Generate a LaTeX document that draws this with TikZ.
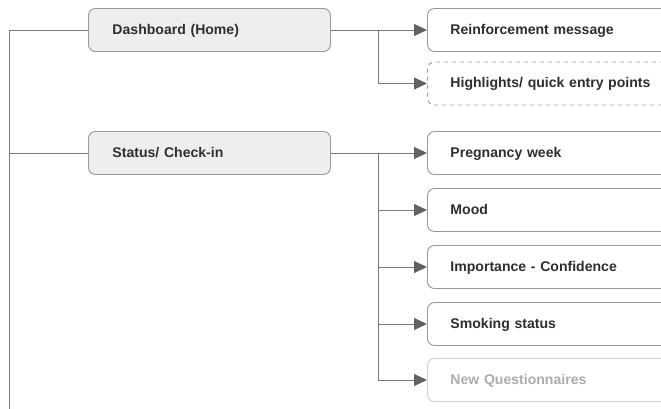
\documentclass[tikz,border=0pt]{standalone}
\usepackage{fontspec}
\setmainfont{Liberation Sans}
\usetikzlibrary{arrows.meta}
\definecolor{linegray}{HTML}{7A7A7A}
\definecolor{boxgray}{HTML}{9A9A9A}
\definecolor{txtgray}{HTML}{2E2E2E}
\begin{document}
\begin{tikzpicture}[x=0.3mm,y=-0.3mm,
  every node/.style={font=\bfseries\fontsize{12}{14}\selectfont,text=txtgray,text height=0.72em,text depth=0pt},
  main/.style={draw=boxgray,fill=gray!13,rounded corners=2.1mm,anchor=west,minimum height=12.9mm,
    text width=72.6mm-14.4mm,inner xsep=7.2mm,align=left,line width=0.8pt},
  leaf/.style={draw=boxgray,fill=white,rounded corners=2.1mm,anchor=west,minimum height=12.9mm,
    text width=85mm-13.8mm,inner xsep=6.9mm,align=left,line width=0.8pt},
  link/.style={draw=linegray,line width=0.8pt},
  arr/.style={link,-{Triangle[length=3.9mm,width=3.6mm,color=linegray!80!black]}}]
\useasboundingbox (0,0) rectangle (661,409);
\node[main] (dash) at (88,30) {Dashboard (Home)};
\node[main] (stat) at (88,153) {Status/ Check-in};
\node[leaf] (reinf) at (427,30) {Reinforcement message};
\node[leaf,dashed,dash pattern=on 1.2mm off 1.2mm] (high) at (427,83.5) {Highlights/ quick entry points};
\node[leaf] (preg) at (427,153) {Pregnancy week};
\node[leaf] (mood) at (427,210) {Mood};
\node[leaf] (imp) at (427,267) {Importance - Confidence};
\node[leaf] (smok) at (427,324) {Smoking status};
\node[leaf,draw=gray!35,text=gray!65] (newq) at (427,380) {New Questionnaires};
\coordinate (trunk) at (9,420);
\coordinate (j1) at (378,30);
\coordinate (j2) at (378,153);
\draw[link] (dash.west) -| (trunk);
\draw[link] (stat.west) -- (stat.west -| trunk);
\draw[arr] (dash.east) -- (reinf.west);
\draw[arr] (j1) |- (high.west);
\draw[arr] (stat.east) -- (preg.west);
\foreach \n in {mood,imp,smok,newq}
  \draw[arr] (j2) |- (\n.west);
\end{tikzpicture}
\end{document}
